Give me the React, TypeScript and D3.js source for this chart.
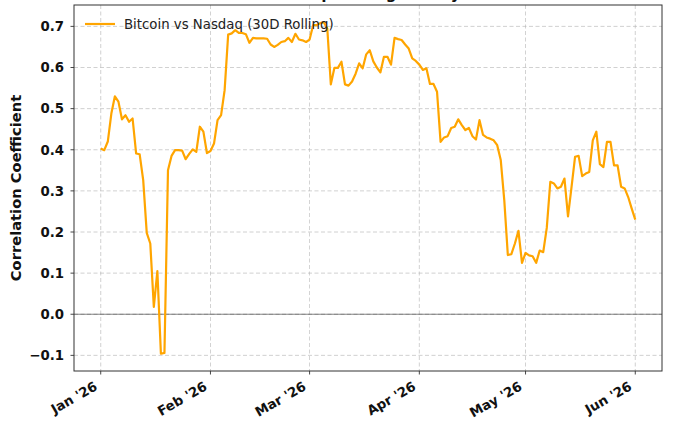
import * as d3 from "d3";

// 30-day rolling correlation, one value per day from Jan 1 to Jun 1 2026
const startDate = new Date(Date.UTC(2026, 0, 1));
const endDate = new Date(Date.UTC(2026, 5, 2));
const correlation = [
    0.403, 0.399, 0.42, 0.488, 0.53, 0.517, 0.474, 0.484, 0.468, 0.476,
    0.391, 0.389, 0.326, 0.198, 0.172, 0.018, 0.105, -0.096, -0.094, 0.35,
    0.385, 0.399, 0.399, 0.398, 0.377, 0.39, 0.401, 0.395, 0.456, 0.444,
    0.392, 0.397, 0.415, 0.472, 0.484, 0.545, 0.68, 0.683, 0.691, 0.684,
    0.684, 0.681, 0.66, 0.672, 0.671, 0.671, 0.671, 0.67, 0.656, 0.65,
    0.655, 0.662, 0.664, 0.672, 0.662, 0.682, 0.668, 0.666, 0.662, 0.668,
    0.703, 0.703, 0.708, 0.71, 0.695, 0.559, 0.599, 0.599, 0.614, 0.559,
    0.556, 0.566, 0.585, 0.61, 0.598, 0.632, 0.642, 0.615, 0.6, 0.588,
    0.626, 0.626, 0.607, 0.672, 0.669, 0.667, 0.656, 0.646, 0.622, 0.616,
    0.607, 0.594, 0.598, 0.56, 0.56, 0.541, 0.419, 0.43, 0.433, 0.453,
    0.456, 0.474, 0.46, 0.448, 0.453, 0.433, 0.425, 0.472, 0.436, 0.43,
    0.427, 0.423, 0.411, 0.375, 0.277, 0.144, 0.146, 0.172, 0.203, 0.125,
    0.149, 0.143, 0.141, 0.125, 0.155, 0.151, 0.21, 0.322, 0.318, 0.306,
    0.31, 0.33, 0.238, 0.31, 0.383, 0.385, 0.336, 0.342, 0.346, 0.423,
    0.444, 0.365, 0.358, 0.419, 0.419, 0.362, 0.362, 0.31, 0.306, 0.285,
    0.257, 0.23,
];
const yTicks = [-0.1, 0.0, 0.1, 0.2, 0.3, 0.4, 0.5, 0.6, 0.7];
const monthTicks = ["2026-01-01", "2026-02-01", "2026-03-01", "2026-04-01", "2026-05-01", "2026-06-01"];
const seriesLabel = "Bitcoin vs Nasdaq (30D Rolling)";
const titleText = "Bitcoin vs Nasdaq: Rolling 30-Day Correlation";

const W = 680;
const H = 424;
const plot = { left: 74, right: 662, top: 5, bottom: 371 };
const FONT = "'DejaVu Sans', sans-serif";
const LINE = "#FFA500";

export default function App() {
    const dates = d3.utcDay.range(startDate, endDate);
    const points = dates.map((d, i) => ({ date: d, value: correlation[i] }));

    const pad = (+endDate - 86400000 - +startDate) * 0.05;
    const x = d3.scaleUtc()
        .domain([new Date(+startDate - pad), new Date(+endDate - 86400000 + pad)])
        .range([plot.left, plot.right]);
    const y = d3.scaleLinear().domain([-0.138, 0.752]).range([plot.bottom, plot.top]);

    const line = d3.line<{ date: Date; value: number }>()
        .x(d => x(d.date))
        .y(d => y(d.value));

    const fmtMonth = d3.utcFormat("%b '%y");
    const fmtY = (v: number) => (v < 0 ? "\u2212" : "") + Math.abs(v).toFixed(1);
    const ticks = monthTicks.map(s => new Date(s + "T00:00:00Z"));

    return (
        <svg width={W} height={H} style={{ position: "absolute", left: 0, top: 0, background: "#fff" }} fontFamily={FONT}>
            {/* title, cropped above the frame in the source image */}
            <text x={(plot.left + plot.right) / 2} y={-1.5} textAnchor="middle" fontSize={15} fontWeight="bold" fill="#111">{titleText}</text>

            {/* grid */}
            {yTicks.map(t => (
                <line key={"gy" + t} x1={plot.left} x2={plot.right} y1={y(t)} y2={y(t)}
                    stroke="#b8b8b8" strokeWidth={0.8} strokeDasharray="4,2.5" opacity={0.8} />
            ))}
            {ticks.map(t => (
                <line key={"gx" + +t} x1={x(t)} x2={x(t)} y1={plot.top} y2={plot.bottom}
                    stroke="#b8b8b8" strokeWidth={0.8} strokeDasharray="4,2.5" opacity={0.8} />
            ))}

            {/* zero line */}
            <line x1={plot.left} x2={plot.right} y1={y(0)} y2={y(0)} stroke="#000" strokeOpacity={0.55} strokeWidth={0.9} />

            {/* series */}
            <path d={line(points) ?? ""} fill="none" stroke={LINE} strokeWidth={2.2} strokeLinejoin="round" />

            {/* frame */}
            <rect x={plot.left} y={plot.top} width={plot.right - plot.left} height={plot.bottom - plot.top}
                fill="none" stroke="#333" strokeWidth={1} />

            {/* y axis */}
            {yTicks.map(t => (
                <g key={"ty" + t}>
                    <line x1={plot.left - 3.5} x2={plot.left} y1={y(t)} y2={y(t)} stroke="#333" strokeWidth={0.9} />
                    <text x={plot.left - 10} y={y(t)} dy="0.36em" textAnchor="end" fontSize={13.3} fontWeight="bold" fill="#111">{fmtY(t)}</text>
                </g>
            ))}
            <text transform={`translate(20.5,${(plot.top + plot.bottom) / 2}) rotate(-90)`} textAnchor="middle"
                fontSize={14.7} fontWeight="bold" fill="#111">Correlation Coefficient</text>

            {/* x axis */}
            {ticks.map(t => (
                <g key={"tx" + +t}>
                    <line x1={x(t)} x2={x(t)} y1={plot.bottom} y2={plot.bottom + 3.5} stroke="#333" strokeWidth={0.9} />
                    <text transform={`translate(${x(t) - 2.5},${plot.bottom + 18}) rotate(-30)`} textAnchor="end"
                        fontSize={13.3} fontWeight="bold" fill="#111">{fmtMonth(t)}</text>
                </g>
            ))}

            {/* legend */}
            <line x1={85} x2={115} y1={24} y2={24} stroke={LINE} strokeWidth={2.2} />
            <text x={124} y={24} dy="0.36em" fontSize={13.3} fill="#222">{seriesLabel}</text>
        </svg>
    );
}
